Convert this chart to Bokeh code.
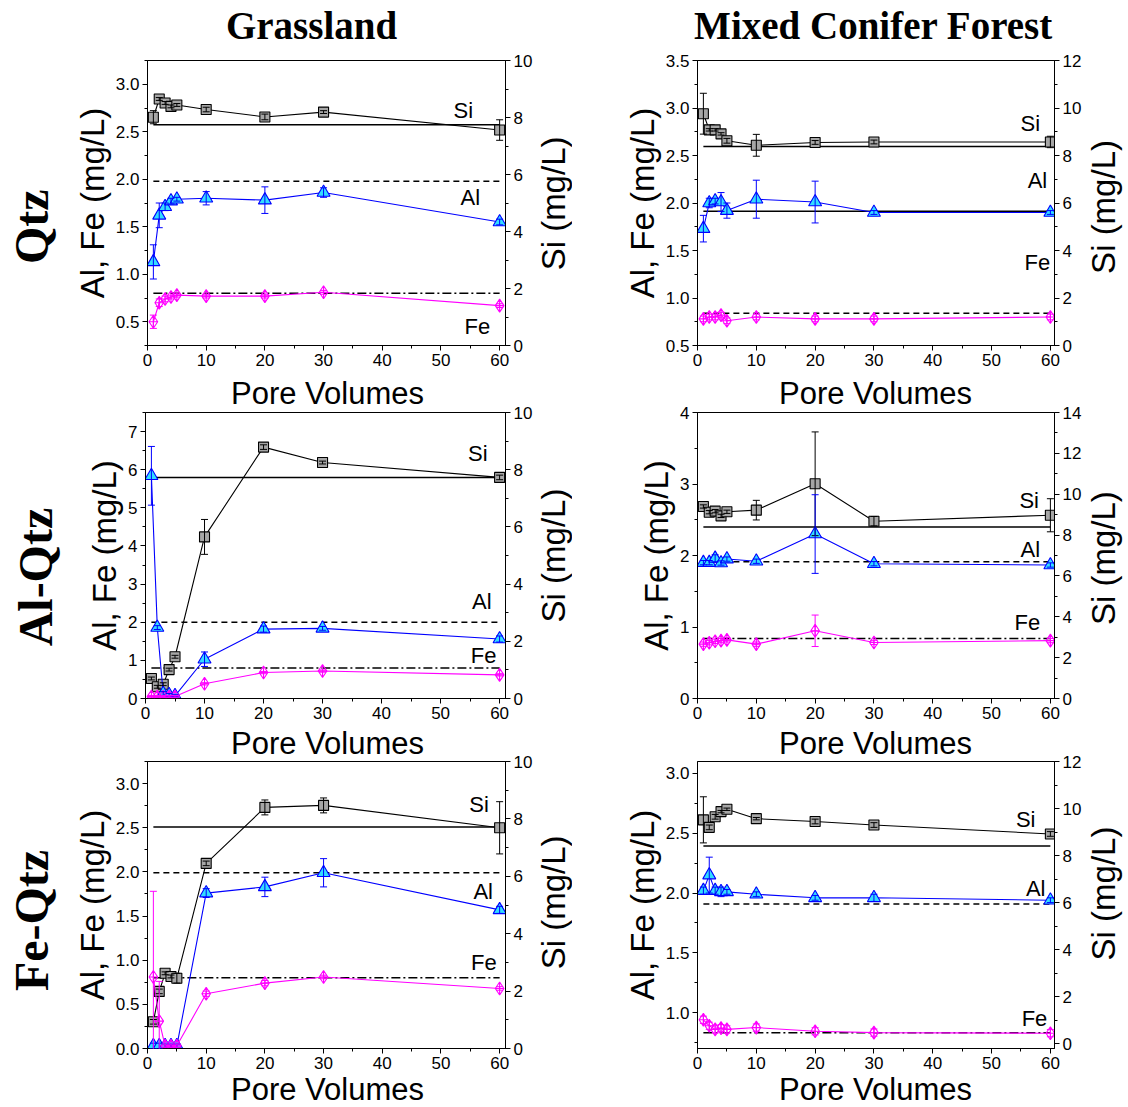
import math
from bokeh.plotting import figure
from bokeh.models import (Range1d, LinearAxis, SingleIntervalTicker, Whisker,
                          ColumnDataSource, TeeHead, NumeralTickFormatter)
from bokeh.layouts import column, row
from bokeh.embed import file_html
from bokeh.resources import INLINE
from bokeh.core.properties import value

# ---------------- data ----------------
pore_volumes = [1, 2, 3, 4, 5, 10, 20, 30, 60]

col_titles = ["Grassland", "Mixed Conifer Forest"]
row_titles = ["Qtz", "Al-Qtz", "Fe-Qtz"]
x_title = "Pore Volumes"
y_left_title = "Al, Fe (mg/L)"
y_right_title = "Si (mg/L)"

# Grassland / Qtz
g_qtz_si = [8.01, 8.65, 8.51, 8.39, 8.44, 8.28, 8.02, 8.19, 7.56]
g_qtz_si_err = [0.23, 0.05, 0.05, 0.05, 0.05, 0.08, 0.10, 0.05, 0.36]
g_qtz_al = [1.13, 1.62, 1.71, 1.77, 1.79, 1.80, 1.78, 1.86, 1.55]
g_qtz_al_err = [0.18, 0.13, 0.04, 0.03, 0.02, 0.07, 0.14, 0.05, 0.03]
g_qtz_fe = [0.50, 0.70, 0.74, 0.76, 0.78, 0.77, 0.77, 0.81, 0.67]
g_qtz_fe_err = [0.07, 0.04, 0.03, 0.02, 0.02, 0.02, 0.02, 0.02, 0.02]
g_qtz_ref = [7.75, 1.98, 0.80]  # Si (right axis), Al, Fe

# Mixed Conifer / Qtz
m_qtz_si = [9.76, 9.08, 9.08, 8.91, 8.62, 8.43, 8.55, 8.57, 8.57]
m_qtz_si_err = [0.86, 0.05, 0.05, 0.05, 0.10, 0.46, 0.08, 0.08, 0.24]
m_qtz_al = [1.73, 2.00, 2.02, 2.01, 1.92, 2.04, 2.01, 1.90, 1.90]
m_qtz_al_err = [0.14, 0.05, 0.03, 0.10, 0.08, 0.20, 0.22, 0.02, 0.02]
m_qtz_fe = [0.78, 0.80, 0.80, 0.82, 0.76, 0.80, 0.78, 0.78, 0.80]
m_qtz_fe_err = [0.03, 0.03, 0.03, 0.03, 0.03, 0.03, 0.03, 0.03, 0.03]
m_qtz_ref = [8.38, 1.913, 0.839]

# Grassland / Al-Qtz
g_alq_si = [0.70, 0.41, 0.50, 1.01, 1.46, 5.65, 8.79, 8.25, 7.73]
g_alq_si_err = [0.05, 0.05, 0.05, 0.05, 0.05, 0.61, 0.08, 0.05, 0.08]
g_alq_al = [5.84, 1.86, 0.13, 0.10, 0.07, 1.03, 1.82, 1.84, 1.56]
g_alq_al_err = [0.77, 0.05, 0.05, 0.03, 0.03, 0.19, 0.08, 0.05, 0.08]
g_alq_fe = [0.05, 0.05, 0.05, 0.05, 0.05, 0.385, 0.68, 0.72, 0.62]
g_alq_fe_err = [0.03, 0.03, 0.03, 0.03, 0.03, 0.03, 0.03, 0.03, 0.03]
g_alq_ref = [7.73, 2.0, 0.80]

# Mixed Conifer / Al-Qtz
m_alq_si = [9.40, 9.12, 9.17, 8.94, 9.14, 9.22, 10.51, 8.68, 8.97]
m_alq_si_err = [0.08, 0.08, 0.08, 0.08, 0.08, 0.48, 2.54, 0.23, 0.81]
m_alq_al = [1.90, 1.90, 1.96, 1.895, 1.95, 1.92, 2.30, 1.885, 1.867]
m_alq_al_err = [0.03, 0.03, 0.05, 0.03, 0.03, 0.03, 0.55, 0.03, 0.03]
m_alq_fe = [0.76, 0.78, 0.80, 0.81, 0.82, 0.76, 0.947, 0.784, 0.81]
m_alq_fe_err = [0.03, 0.03, 0.03, 0.03, 0.03, 0.03, 0.22, 0.03, 0.03]
m_alq_ref = [8.40, 1.913, 0.84]

# Grassland / Fe-Qtz
g_feq_si = [0.93, 1.99, 2.62, 2.51, 2.45, 6.45, 8.40, 8.47, 7.69]
g_feq_si_err = [0.08, 0.08, 0.05, 0.05, 0.17, 0.08, 0.26, 0.26, 0.91]
g_feq_al = [0.03, 0.03, 0.03, 0.03, 0.03, 1.76, 1.83, 1.99, 1.57]
g_feq_al_err = [0.03, 0.03, 0.02, 0.02, 0.02, 0.05, 0.11, 0.16, 0.04]
g_feq_fe = [0.81, 0.31, 0.03, 0.03, 0.03, 0.62, 0.74, 0.81, 0.68]
g_feq_fe_err = [0.97, 0.45, 0.02, 0.02, 0.02, 0.03, 0.03, 0.02, 0.02]
g_feq_ref = [7.72, 1.99, 0.80]

# Mixed Conifer / Fe-Qtz
m_feq_si = [9.52, 9.20, 9.65, 9.87, 9.97, 9.57, 9.45, 9.30, 8.92]
m_feq_si_err = [0.98, 0.10, 0.10, 0.05, 0.05, 0.05, 0.10, 0.10, 0.10]
m_feq_al = [2.02, 2.15, 2.02, 2.01, 2.01, 1.99, 1.96, 1.96, 1.94]
m_feq_al_err = [0.03, 0.15, 0.03, 0.04, 0.02, 0.02, 0.02, 0.03, 0.02]
m_feq_fe = [0.94, 0.89, 0.86, 0.87, 0.86, 0.875, 0.844, 0.833, 0.828]
m_feq_fe_err = [0.03, 0.03, 0.03, 0.03, 0.03, 0.03, 0.03, 0.03, 0.03]
m_feq_ref = [8.41, 1.908, 0.831]

# ---------------- styling / layout ----------------
SANS = "Liberation Sans"
SERIF = "Liberation Serif"
SOLID, DASH, DASHDOT = "solid", "6 4", "9 3 2 3"

SI_LINE, SI_FILL = "black", "#A6A6A6"
AL_LINE, AL_FILL = "#0000FF", "#33DDFF"
FE_LINE = "#FF00FF"

TITLE_H = 48
# page-y spans of the panel rows and of the x-title strips (they overlap a
# little; every canvas is transparent outside its plotting frame)
PANEL_ROWS = [(48, 372), (400, 725), (750, 1075)]
STRIPS = [(372, 413), (725, 761), (1071, 1107)]
ROW_TOP = [12, 12, 11]
FRAME_H = [285, 286, 287]
XT_Y = [393, 743, 1089]                              # x-title centres
XT_X = [327, 875]
LABEL_W = 70
LEFT = dict(bl=75, fw=363, br=27)                    # 70 -> 535
SI_L = (535, 572, 553)                               # strip x0, x1, centre
RIGHT = dict(bl=125, fw=360, br=27)                  # 572 -> 1084
SI_R = (1084, 1124, 1103)
SI_Y = [[194, 546, 893], [198, 549, 883]]
ROT_FIX = 0.5                                        # rotated text shift (em)


def style_axis(ax):
    ax.axis_line_color = "black"
    ax.axis_line_width = 1
    ax.major_tick_line_color = "black"
    ax.minor_tick_line_color = "black"
    ax.major_tick_out = 5
    ax.major_tick_in = 0
    ax.minor_tick_out = 3
    ax.minor_tick_in = 0
    ax.major_label_standoff = 3
    ax.major_label_text_font = SANS
    ax.major_label_text_font_size = "17px"
    ax.major_label_text_color = "black"
    ax.axis_label_text_font = SANS
    ax.axis_label_text_font_size = "33px"
    ax.axis_label_text_font_style = "normal"
    ax.axis_label_text_color = "black"
    ax.axis_label_standoff = 2


def make_panel(ri, ci, si, si_err, al, al_err, fe, fe_err, ref, dashes,
               yl, yr, yl_int, yl_fmt, lab_pos):
    g = LEFT if ci == 0 else RIGHT
    width = g["bl"] + g["fw"] + g["br"]
    top, bot = PANEL_ROWS[ri]
    h = bot - top
    bt = ROW_TOP[ri]
    bb = h - bt - FRAME_H[ri]
    xend = 61.0 if ci == 0 else 60.7
    p = figure(width=width, height=h, x_range=Range1d(0, xend),
               y_range=Range1d(*yl), toolbar_location=None,
               output_backend="svg", min_border_left=g["bl"],
               min_border_right=g["br"], min_border_top=bt,
               min_border_bottom=bb, y_axis_label=y_left_title)
    p.extra_y_ranges = {"si": Range1d(*yr)}
    p.xgrid.visible = False
    p.ygrid.visible = False
    p.outline_line_color = "black"
    p.outline_line_width = 1
    p.background_fill_color = "white"
    p.border_fill_color = None

    p.xaxis.ticker = SingleIntervalTicker(interval=10, num_minor_ticks=2)
    p.yaxis.ticker = SingleIntervalTicker(interval=yl_int, num_minor_ticks=2)
    p.yaxis.formatter = NumeralTickFormatter(format=yl_fmt)
    raxis = LinearAxis(y_range_name="si",
                       ticker=SingleIntervalTicker(interval=2, num_minor_ticks=2))
    p.add_layout(raxis, "right")
    for ax in [p.xaxis[0], p.yaxis[0], raxis]:
        style_axis(ax)

    xs = pore_volumes
    xr = [xs[0], xs[-1]]
    # reference lines
    p.line(xr, [ref[0], ref[0]], y_range_name="si", line_color="black",
           line_width=1.5, line_dash=dashes[0])
    p.line(xr, [ref[1], ref[1]], line_color="black", line_width=1.5,
           line_dash=dashes[1])
    p.line(xr, [ref[2], ref[2]], line_color="black", line_width=1.5,
           line_dash=dashes[2])

    def series(vals, errs, color, rname, kind, fill, size):
        src = ColumnDataSource(dict(x=xs, y=vals,
                                    lo=[v - e for v, e in zip(vals, errs)],
                                    hi=[v + e for v, e in zip(vals, errs)]))
        kw = {} if rname is None else {"y_range_name": rname}
        p.line("x", "y", source=src, line_color=color, line_width=1.1, **kw)
        p.scatter("x", "y", source=src, marker=kind, size=size,
                  line_color=color, fill_color=fill, line_width=1.1, **kw)
        w = Whisker(base="x", upper="hi", lower="lo", source=src,
                    dimension="height", line_color=color, line_width=1,
                    upper_head=TeeHead(size=7, line_color=color, line_width=1),
                    lower_head=TeeHead(size=7, line_color=color, line_width=1),
                    level="annotation", **kw)
        p.add_layout(w)

    series(si, si_err, SI_LINE, "si", "square", SI_FILL, 10)
    series(al, al_err, AL_LINE, None, "triangle", AL_FILL, 13)
    series(fe, fe_err, FE_LINE, None, "diamond_cross", None, 13)

    p.text(x=[q[0] for q in lab_pos], y=[q[1] for q in lab_pos],
           text=["Si", "Al", "Fe"], text_font=value(SANS),
           text_font_size="22px", text_align="center",
           text_baseline="middle", text_color="black")
    return p


def blank(x0, x1, y0, y1, **kw):
    """Axis-less transparent strip whose data coordinates are page pixels."""
    p = figure(width=x1 - x0, height=y1 - y0, x_range=Range1d(x0, x1),
               y_range=Range1d(y1, y0), toolbar_location=None,
               output_backend="svg", min_border=0, **kw)
    p.axis.visible = False
    p.xgrid.visible = False
    p.ygrid.visible = False
    p.outline_line_color = None
    p.border_fill_color = None
    p.background_fill_color = None
    return p


def vtext(p, x, y, txt, font, size, bold=False):
    p.text(x=[x], y=[y + ROT_FIX * size], text=[txt], angle=math.pi / 2,
           text_font=value(font), text_font_style="bold" if bold else "normal",
           text_font_size=f"{size}px", text_align="center",
           text_baseline="middle", text_color="black")


total_w = SI_R[1]
title = blank(0, total_w, 0, TITLE_H)
title.text(x=[311, 873], y=[25, 25], text=col_titles, text_font=value(SERIF),
           text_font_style="bold", text_font_size="39px", text_align="center",
           text_baseline="middle", text_color="black")

row_lab_y = [213, 563, 906]
row_lab_x = [31, 35, 31]

panels = [
    [make_panel(0, 0, g_qtz_si, g_qtz_si_err, g_qtz_al, g_qtz_al_err, g_qtz_fe,
                g_qtz_fe_err, g_qtz_ref, [SOLID, DASH, DASHDOT],
                (0.25, 3.25), (0, 10), 0.5, "0.0",
                [(53.8, 2.72), (55.0, 1.81), (56.2, 0.45)]),
     make_panel(0, 1, m_qtz_si, m_qtz_si_err, m_qtz_al, m_qtz_al_err, m_qtz_fe,
                m_qtz_fe_err, m_qtz_ref, [SOLID, SOLID, DASH],
                (0.5, 3.5), (0, 12), 0.5, "0.0",
                [(56.6, 2.836), (57.8, 2.238), (57.8, 1.378)])],
    [make_panel(1, 0, g_alq_si, g_alq_si_err, g_alq_al, g_alq_al_err, g_alq_fe,
                g_alq_fe_err, g_alq_ref, [SOLID, DASH, DASHDOT],
                (0, 7.5), (0, 10), 1, "0",
                [(56.3, 6.42), (57.0, 2.54), (57.3, 1.12)]),
     make_panel(1, 1, m_alq_si, m_alq_si_err, m_alq_al, m_alq_al_err, m_alq_fe,
                m_alq_fe_err, m_alq_ref, [SOLID, DASH, DASHDOT],
                (0, 4), (0, 14), 1, "0",
                [(56.4, 2.775), (56.6, 2.087), (56.1, 1.06)])],
    [make_panel(2, 0, g_feq_si, g_feq_si_err, g_feq_al, g_feq_al_err, g_feq_fe,
                g_feq_fe_err, g_feq_ref, [SOLID, DASH, DASHDOT],
                (0, 3.25), (0, 10), 0.5, "0.0",
                [(56.5, 2.758), (57.2, 1.78), (57.3, 0.974)]),
     make_panel(2, 1, m_feq_si, m_feq_si_err, m_feq_al, m_feq_al_err, m_feq_fe,
                m_feq_fe_err, m_feq_ref, [SOLID, DASH, DASHDOT],
                (0.7, 3.1), (-0.2, 12), 0.5, "0.0",
                [(55.8, 2.617), (57.5, 2.042), (57.3, 0.95)])],
]

items = [title]
for i in range(3):
    top, bot = PANEL_ROWS[i]
    lab = blank(0, LABEL_W, top, bot)
    vtext(lab, row_lab_x[i], row_lab_y[i], row_titles[i], SERIF, 48, bold=True)
    sl = blank(SI_L[0], SI_L[1], top, bot)
    vtext(sl, SI_L[2], SI_Y[0][i], y_right_title, SANS, 33)
    sr = blank(SI_R[0], SI_R[1], top, bot)
    vtext(sr, SI_R[2], SI_Y[1][i], y_right_title, SANS, 33)
    items.append(row(lab, panels[i][0], sl, panels[i][1], sr))
    s0, s1 = STRIPS[i]
    nxt = PANEL_ROWS[i + 1][0] if i < 2 else s1
    prev_end = bot
    strip = blank(0, total_w, s0, s1,
                  margin=(s0 - prev_end, 0, nxt - s1, 0))
    strip.text(x=XT_X, y=[XT_Y[i]] * 2, text=[x_title, x_title],
               text_font=value(SANS), text_font_size="31px",
               text_align="center", text_baseline="middle",
               text_color="black")
    items.append(strip)

layout = column(*items)
open("out.html", "w").write(file_html(layout, INLINE))
